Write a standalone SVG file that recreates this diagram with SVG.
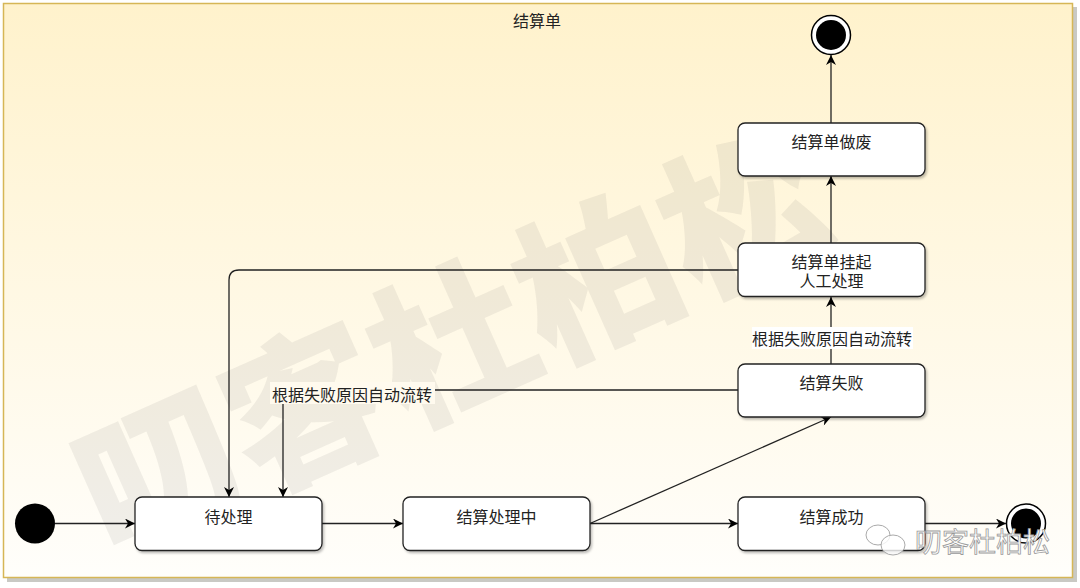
<svg xmlns="http://www.w3.org/2000/svg" width="1080" height="588" viewBox="0 0 1080 588">
<defs>
<linearGradient id="bg" x1="0" y1="0" x2="0" y2="1">
<stop offset="0" stop-color="#fff2cc"/>
<stop offset="1" stop-color="#fffefb"/>
</linearGradient>
<filter id="sh" x="-10%" y="-10%" width="130%" height="140%">
<feDropShadow dx="1.5" dy="2" stdDeviation="1" flood-color="#000" flood-opacity="0.25"/>
</filter>
<marker id="arr" viewBox="0 0 10 10" refX="10" refY="5" markerWidth="11" markerHeight="10" markerUnits="userSpaceOnUse" orient="auto">
<path d="M0,0 L10,5 L0,10 L3,5 z" fill="#000"/>
</marker>
</defs>
<style>
text{font-family:"Noto Sans CJK SC","Noto Sans",sans-serif;font-size:16px;fill:#222;}
.c{text-anchor:middle;dominant-baseline:central;}
.box{fill:#fff;stroke:#222;stroke-width:1.3;}
.e{fill:none;stroke:#222;stroke-width:1.3;marker-end:url(#arr);}
.wm{font-size:160px;font-weight:900;fill:#707070;fill-opacity:0.1;}
</style>
<!-- container -->
<g id="container">
<rect x="7" y="7" width="1070" height="575" fill="#c9c9c4"/>
<rect x="3.5" y="3.5" width="1069" height="574" fill="url(#bg)" stroke="#d6b656" stroke-width="1.5"/>
<text class="c" x="537" y="20">结算单</text>
</g>
<!-- watermark -->
<text class="wm c" x="447" y="333" transform="rotate(-24 447 333)">叨客杜柏松</text>
<!-- connectors -->
<g id="connectors">
<path class="e" d="M55,523.5 H135"/>
<path class="e" d="M322,523.5 H403"/>
<path class="e" d="M590,523.5 H738"/>
<path class="e" d="M925,523.5 H1006"/>
<path class="e" d="M590,523.5 L831,417"/>
<path class="e" d="M831,364 V297"/>
<path class="e" d="M831,243 V176"/>
<path class="e" d="M831,123 V55"/>
<path class="e" d="M738,270 H239 Q229,270 229,280 V497"/>
<path class="e" d="M738,390 H283 V497"/>
<rect x="752" y="327" width="161" height="22" fill="#fff"/>
<text class="c" x="832" y="338">根据失败原因自动流转</text>
<rect x="270" y="382" width="165" height="22" fill="#fffaee"/>
<text class="c" x="352" y="394">根据失败原因自动流转</text>
</g>
<!-- nodes -->
<g id="start"><circle cx="35" cy="523.5" r="20" fill="#000"/></g>
<g id="pending"><rect class="box" x="135" y="497" width="187" height="53.5" rx="7" filter="url(#sh)"/><text class="c" x="228.5" y="516">待处理</text></g>
<g id="processing"><rect class="box" x="403" y="497" width="187" height="53.5" rx="7" filter="url(#sh)"/><text class="c" x="496.5" y="516">结算处理中</text></g>
<g id="success"><rect class="box" x="738" y="497" width="187" height="53.5" rx="7" filter="url(#sh)"/><text class="c" x="831.5" y="516">结算成功</text></g>
<g id="failed"><rect class="box" x="738" y="364" width="187" height="53" rx="7" filter="url(#sh)"/><text class="c" x="831.5" y="382">结算失败</text></g>
<g id="suspended"><rect class="box" x="738" y="243" width="187" height="53.5" rx="7" filter="url(#sh)"/><text class="c" x="831.5" y="261"><tspan x="831.5" y="261">结算单挂起</tspan><tspan x="831.5" y="280">人工处理</tspan></text></g>
<g id="voided"><rect class="box" x="738" y="123" width="187" height="53" rx="7" filter="url(#sh)"/><text class="c" x="831.5" y="141">结算单做废</text></g>
<g id="end-top"><circle cx="831" cy="35" r="19.5" fill="#fff" stroke="#000" stroke-width="1.5"/><circle cx="831" cy="35" r="15" fill="#000"/></g>
<g id="end-bottom"><circle cx="1026" cy="523.5" r="19.5" fill="#fff" stroke="#000" stroke-width="1.5"/><circle cx="1026" cy="523.5" r="15" fill="#000"/></g>
<!-- small watermark -->
<g id="wm-small">
<ellipse cx="878" cy="535" rx="12" ry="10" fill="#fff" fill-opacity="0.8" stroke="#aaa" stroke-width="1"/>
<ellipse cx="893" cy="545" rx="12" ry="10" fill="#fff" fill-opacity="0.8" stroke="#aaa" stroke-width="1"/>
<text x="915" y="552" style="font-size:27px;fill:#fff;stroke:#999;stroke-width:0.8;">叨客杜柏松</text>
</g>
</svg>
